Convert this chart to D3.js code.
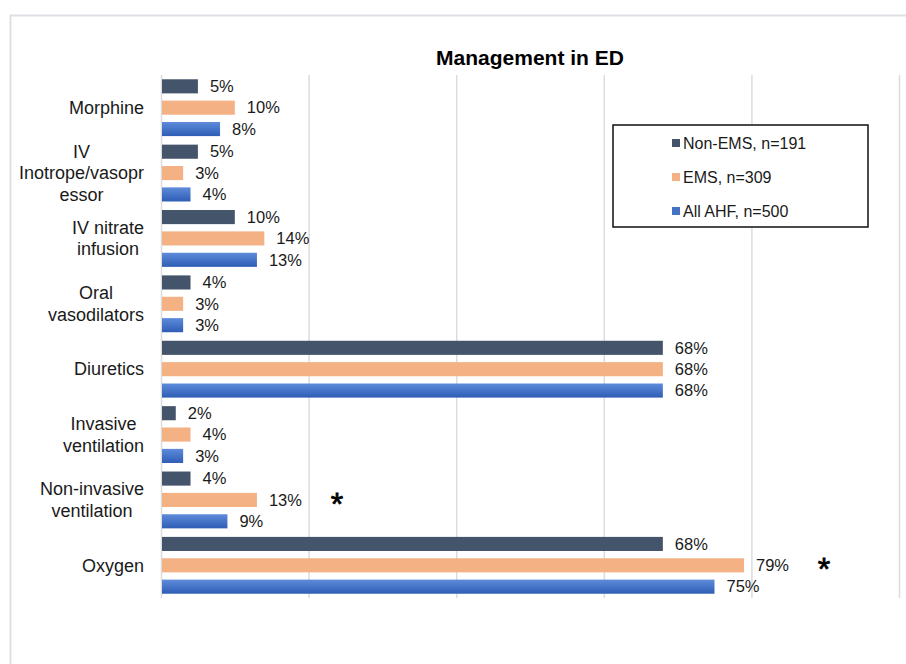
<!DOCTYPE html>
<html>
<head>
<meta charset="utf-8">
<script src="https://cdn.jsdelivr.net/npm/d3@7"></script>
<style>
  body { margin: 0; background: #fff; font-family: "Liberation Sans", Arial, sans-serif; }
</style>
</head>
<body>
<div id="chart"></div>
<script>
// categories, top to bottom
var categories = ["Morphine", "IV Inotrope/vasopressor", "IV nitrate infusion", "Oral vasodilators",
    "Diuretics", "Invasive ventilation", "Non-invasive ventilation", "Oxygen"];
// labels as they wrap on the chart
var catLines = [["Morphine"], ["IV", "Inotrope/vasopr", "essor"], ["IV nitrate", "infusion"],
    ["Oral", "vasodilators"], ["Diuretics"], ["Invasive", "ventilation"],
    ["Non-invasive", "ventilation"], ["Oxygen"]];
var seriesNames = ["Non-EMS, n=191", "EMS, n=309", "All AHF, n=500"];
var nonEms = [5, 5, 10, 4, 68, 2, 4, 68];
var ems = [10, 3, 14, 3, 68, 4, 13, 79];
var allAhf = [8, 4, 13, 3, 68, 3, 9, 75];
// categories with a significant difference
var starred = ["Non-invasive ventilation", "Oxygen"];
var xTicks = [0, 20, 40, 60, 80, 100];

var colors = ["#44546A", "#F4B183", "url(#blueGrad)"];
var legendColors = ["#44546A", "#F4B183", "#4472C4"];
var series = [nonEms, ems, allAhf];

var W = 906, H = 664;
var svg = d3.select("#chart").append("svg")
    .attr("width", W)
    .attr("height", H);

var defs = svg.append("defs");
var grad = defs.append("linearGradient")
    .attr("id", "blueGrad")
    .attr("x1", 0).attr("y1", 0).attr("x2", 0).attr("y2", 1);
grad.append("stop").attr("offset", "0%").attr("stop-color", "#5E8BDA");
grad.append("stop").attr("offset", "100%").attr("stop-color", "#2E5DB5");

// chart frame
svg.append("rect")
    .attr("x", 10.5).attr("y", 15.5)
    .attr("width", 1000).attr("height", 1000)
    .attr("fill", "none")
    .attr("stroke", "#dde1e6")
    .attr("stroke-width", 2);

var x = d3.scaleLinear().domain([0, 100]).range([161, 899]);
var y = d3.scaleBand().domain(categories).range([75, 598]);
var inner = d3.scaleBand().domain([0, 1, 2]).range([0, y.bandwidth()]).paddingInner(0.34).paddingOuter(0.2);

// gridlines
svg.append("g")
    .attr("transform", "translate(0,598)")
    .call(d3.axisBottom(x).tickValues(xTicks).tickSize(-523).tickFormat(""))
    .call(function(g) { g.select(".domain").remove(); })
    .selectAll("line")
    .attr("stroke", "#dcdcdc")
    .attr("stroke-width", 1.5);

// title
svg.append("text")
    .attr("x", 530)
    .attr("y", 65)
    .attr("text-anchor", "middle")
    .style("font-size", "21px")
    .style("font-weight", "bold")
    .text("Management in ED");

// bars
series.forEach(function(vals, s) {
    var g = svg.append("g");
    g.selectAll("rect")
        .data(vals)
        .enter()
        .append("rect")
        .attr("x", x(0) + 1)
        .attr("y", function(d, i) { return y(categories[i]) + inner(s); })
        .attr("width", function(d) { return x(d) - x(0) - 1; })
        .attr("height", inner.bandwidth())
        .attr("fill", colors[s]);
    g.selectAll("text")
        .data(vals)
        .enter()
        .append("text")
        .attr("x", function(d) { return x(d) + 12; })
        .attr("y", function(d, i) { return y(categories[i]) + inner(s) + inner.bandwidth() / 2; })
        .attr("dy", "0.35em")
        .style("font-size", "16.5px")
        .attr("fill", "#1a1a1a")
        .text(function(d) { return d + "%"; });
});

// asterisks next to the EMS labels
svg.append("g").selectAll("text")
    .data(starred)
    .enter()
    .append("text")
    .attr("x", function(d) {
        var i = categories.indexOf(d);
        return x(ems[i]) + 80;
    })
    .attr("y", function(d) { return y(d) + inner(1) + inner.bandwidth() / 2 + 15; })
    .attr("text-anchor", "middle")
    .style("font-size", "32px")
    .attr("stroke", "#000")
    .attr("stroke-width", 0.8)
    .text("*");

// category labels, lines centred on each other, block right edge at 144
var catG = svg.append("g");
catLines.forEach(function(lines, i) {
    var cy = y(categories[i]) + y.bandwidth() / 2;
    var lh = 21.5;
    var t = catG.append("text")
        .attr("text-anchor", "middle")
        .style("font-size", "18px")
        .attr("fill", "#1a1a1a");
    var spans = lines.map(function(line, j) {
        return t.append("tspan")
            .attr("y", cy + (j - (lines.length - 1) / 2) * lh)
            .attr("dy", "0.35em")
            .text(line);
    });
    var maxW = d3.max(spans, function(sp) { return sp.node().getComputedTextLength(); });
    spans.forEach(function(sp) { sp.attr("x", 144 - maxW / 2); });
});

// legend
var legend = svg.append("g").attr("transform", "translate(613,125)");
legend.append("rect")
    .attr("width", 255)
    .attr("height", 102)
    .attr("fill", "#fff")
    .attr("stroke", "#111")
    .attr("stroke-width", 1.5);
seriesNames.forEach(function(name, i) {
    var ly = 18 + i * 34;
    legend.append("rect")
        .attr("x", 59).attr("y", ly - 4)
        .attr("width", 8).attr("height", 8)
        .attr("fill", legendColors[i]);
    legend.append("text")
        .attr("x", 70).attr("y", ly)
        .attr("dy", "0.35em")
        .style("font-size", "16px")
        .attr("fill", "#1a1a1a")
        .text(name);
});
</script>
</body>
</html>
